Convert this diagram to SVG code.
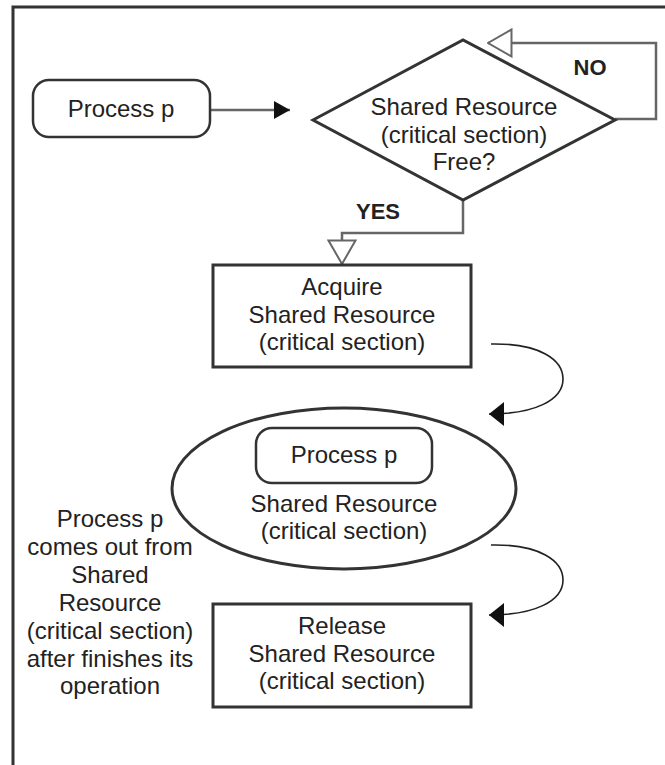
<svg xmlns="http://www.w3.org/2000/svg" width="665" height="765" viewBox="0 0 665 765">
  <style>
    .t { font-family: "Liberation Sans", Arial, sans-serif; font-size: 24px; fill: #222; text-anchor: middle; }
    .b { font-weight: bold; font-size: 22px; }
    .shape { fill: #fff; stroke: #333; stroke-width: 3; }
    .round { fill: #fff; stroke: #333; stroke-width: 2.5; }
    .flow { fill: none; stroke: #666; stroke-width: 2.5; }
    .curve { fill: none; stroke: #222; stroke-width: 1.6; }
  </style>
  <defs>
    <marker id="open-tri" viewBox="0 0 26 30" refX="25" refY="15" markerWidth="26" markerHeight="30" markerUnits="userSpaceOnUse" orient="auto">
      <path d="M1.5,1.5 L25,15 L1.5,28.5 Z" fill="#fff" stroke="#666" stroke-width="2"/>
    </marker>
    <marker id="solid-tri" viewBox="0 0 16 18" refX="16" refY="9" markerWidth="16" markerHeight="18" markerUnits="userSpaceOnUse" orient="auto">
      <path d="M0,0 L16,9 L0,18 Z" fill="#111"/>
    </marker>
    <marker id="solid-tri-wide" viewBox="0 0 15 24" refX="15" refY="12" markerWidth="15" markerHeight="24" markerUnits="userSpaceOnUse" orient="auto">
      <path d="M0,0 L15,12 L0,24 Z" fill="#111"/>
    </marker>
  </defs>

  <!-- page frame (left and top edges) -->
  <path d="M13,765 V7 H665" fill="none" stroke="#333" stroke-width="3"/>

  <g id="connectors">
    <path class="flow" d="M210,110 H290" marker-end="url(#solid-tri)"/>
    <path class="flow" d="M615,119 H656 V43 H488" marker-end="url(#open-tri)"/>
    <path class="flow" d="M463,201 V233 H342 V264" marker-end="url(#open-tri)"/>
    <path class="curve" d="M491,344 C540,343 563,360 563,379 C563,400 535,414 489,414" marker-end="url(#solid-tri-wide)"/>
    <path class="curve" d="M491,545 C540,544 563,561 563,580 C563,601 535,615 489,615" marker-end="url(#solid-tri-wide)"/>
    <text class="t b" x="590" y="75">NO</text>
    <text class="t b" x="378" y="219">YES</text>
  </g>

  <g id="process-start">
    <rect class="round" x="33" y="80" width="177" height="57" rx="16"/>
    <text class="t" x="121" y="117">Process p</text>
  </g>

  <g id="decision-free">
    <polygon class="shape" points="313,120 463,40 615,120 463,200"/>
    <text class="t" x="464" y="115">Shared Resource</text>
    <text class="t" x="464" y="143">(critical section)</text>
    <text class="t" x="464" y="170">Free?</text>
  </g>

  <g id="acquire">
    <rect class="shape" x="213" y="265" width="258" height="102"/>
    <text class="t" x="342" y="295">Acquire</text>
    <text class="t" x="342" y="323">Shared Resource</text>
    <text class="t" x="342" y="350">(critical section)</text>
  </g>

  <g id="critical-section">
    <ellipse class="shape" cx="344" cy="488.5" rx="172" ry="80.5"/>
    <rect class="round" x="256" y="428" width="176" height="55" rx="16"/>
    <text class="t" x="344" y="463">Process p</text>
    <text class="t" x="344" y="512">Shared Resource</text>
    <text class="t" x="344" y="539">(critical section)</text>
  </g>

  <g id="release">
    <rect class="shape" x="213" y="604" width="258" height="103"/>
    <text class="t" x="342" y="634">Release</text>
    <text class="t" x="342" y="662">Shared Resource</text>
    <text class="t" x="342" y="689">(critical section)</text>
  </g>

  <g id="exit-note">
    <text class="t" x="110" y="527">Process p</text>
    <text class="t" x="110" y="555">comes out from</text>
    <text class="t" x="110" y="583">Shared</text>
    <text class="t" x="110" y="611">Resource</text>
    <text class="t" x="110" y="639">(critical section)</text>
    <text class="t" x="110" y="667">after finishes its</text>
    <text class="t" x="110" y="694">operation</text>
  </g>
</svg>
